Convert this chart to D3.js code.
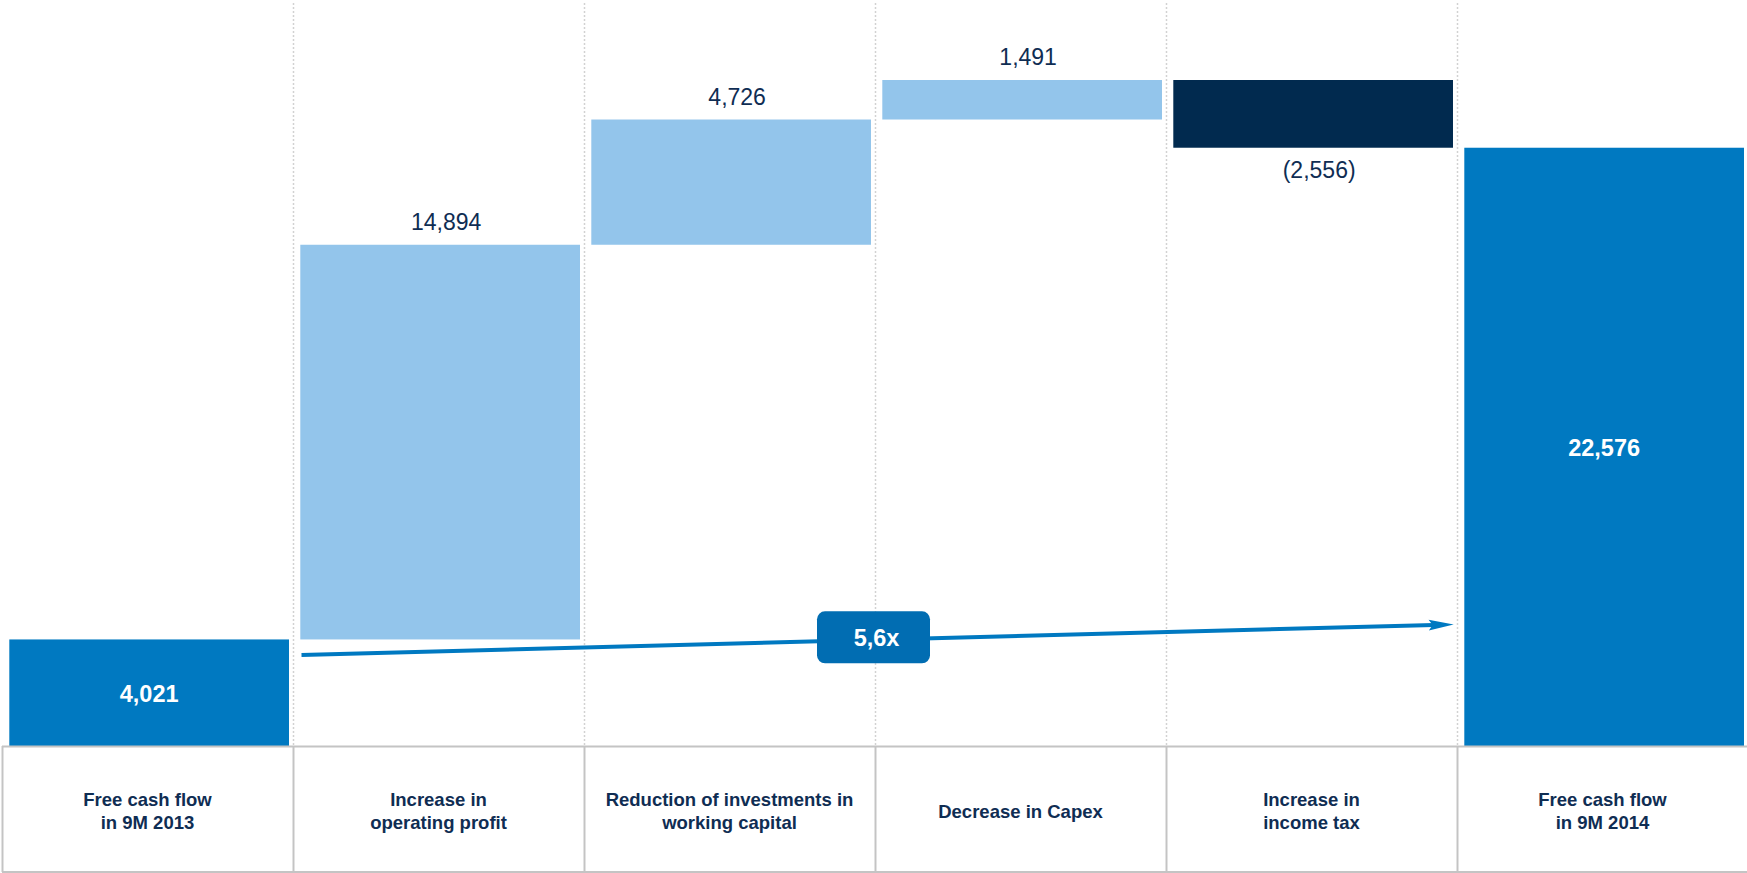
<!DOCTYPE html>
<html>
<head>
<meta charset="utf-8">
<script src="https://cdn.jsdelivr.net/npm/d3@7"></script>
<style>
  html, body { margin: 0; padding: 0; background: #ffffff; }
  svg { display: block; }
  text { font-family: "Liberation Sans", Arial, sans-serif; }
</style>
</head>
<body>
<svg id="chart" width="1747" height="873"></svg>
<script>
// Free cash flow bridge, 9M 2013 -> 9M 2014
const categories = [
  "Free cash flow\nin 9M 2013",
  "Increase in\noperating profit",
  "Reduction of investments in\nworking capital",
  "Decrease in Capex",
  "Increase in\nincome tax",
  "Free cash flow\nin 9M 2014"
];
const values = [4021, 14894, 4726, 1491, -2556, 22576];
const kinds = ["total", "increase", "increase", "increase", "decrease", "total"];
const valueLabels = ["4,021", "14,894", "4,726", "1,491", "(2,556)", "22,576"];

const W = 1747, H = 873;
const baseY = 746, tableBottom = 872, topY = 80;

const colors = {
  total: "#0079c1",
  increase: "#93c5eb",
  decrease: "#012a4f",
  badge: "#016db2",
  text: "#0f2d53",
  grid: "#d2d2d2",
  table: "#c4c4c4"
};

// running totals for the waterfall
let running = 0;
const bars = values.map((v, i) => {
  let y0, y1;
  if (kinds[i] === "total") { y0 = 0; y1 = v; running = v; }
  else { y0 = running; y1 = running + v; running = y1; }
  return { cat: categories[i], value: v, kind: kinds[i], label: valueLabels[i],
           lo: Math.min(y0, y1), hi: Math.max(y0, y1) };
});

const svg = d3.select("#chart");

const col = d3.scaleBand().domain(categories).range([2, 1748]).padding(0);
const y = d3.scaleLinear().domain([0, d3.max(bars, d => d.hi)]).range([baseY, topY]);

const barInsetL = 7.3, barInsetR = 4;
const barX = c => col(c) + barInsetL;
const barW = col.bandwidth() - barInsetL - barInsetR;

// dotted column separators in the plot area
svg.append("g").selectAll("line")
  .data(categories.slice(1))
  .join("line")
  .attr("x1", d => col(d) + 0.5).attr("x2", d => col(d) + 0.5)
  .attr("y1", 3).attr("y2", baseY)
  .attr("stroke", colors.grid)
  .attr("stroke-width", 1.5)
  .attr("stroke-dasharray", "2,2");

// bars
svg.append("g").selectAll("rect")
  .data(bars)
  .join("rect")
  .attr("x", d => barX(d.cat))
  .attr("width", barW)
  .attr("y", d => y(d.hi))
  .attr("height", d => y(d.lo) - y(d.hi))
  .attr("fill", d => colors[d.kind]);

// value labels
const labels = svg.append("g");
bars.forEach(d => {
  const cx = barX(d.cat) + barW / 2;
  if (d.kind === "total") {
    labels.append("text")
      .attr("x", cx)
      .attr("y", (y(d.lo) + y(d.hi)) / 2 + 9)
      .attr("text-anchor", "middle")
      .attr("font-size", 23.5)
      .attr("font-weight", "bold")
      .attr("fill", "#ffffff")
      .text(d.label);
  } else if (d.kind === "increase") {
    labels.append("text")
      .attr("x", cx + 6)
      .attr("y", y(d.hi) - 15)
      .attr("text-anchor", "middle")
      .attr("font-size", 23)
      .attr("fill", colors.text)
      .text(d.label);
  } else {
    labels.append("text")
      .attr("x", cx + 6)
      .attr("y", y(d.lo) + 30)
      .attr("text-anchor", "middle")
      .attr("font-size", 23)
      .attr("fill", colors.text)
      .text(d.label);
  }
});

// growth arrow from the first total to the last
const first = bars[0], last = bars[bars.length - 1];
const ax0 = barX(first.cat) + barW + 12.5;
const ax1 = col(last.cat) - 3.3;
const ay0 = y(first.hi) + 15.5;
const ay1 = y(first.hi) - 15;
const headLen = 25, headHalf = 5.3, notch = 4;
const ang = Math.atan2(ay1 - ay0, ax1 - ax0);
const ux = Math.cos(ang), uy = Math.sin(ang);
const lineEnd = [ax1 - ux * (headLen - notch - 1), ay1 - uy * (headLen - notch - 1)];

svg.append("line")
  .attr("x1", ax0).attr("y1", ay0)
  .attr("x2", lineEnd[0]).attr("y2", lineEnd[1])
  .attr("stroke", colors.total)
  .attr("stroke-width", 4);

const headPts = [[0, 0], [-headLen, -headHalf], [-headLen + notch, 0], [-headLen, headHalf]]
  .map(([px, py]) => [ax1 + px * ux - py * uy, ay1 + px * uy + py * ux]);
svg.append("path")
  .attr("d", d3.line()(headPts) + "Z")
  .attr("fill", colors.total);

// growth multiple badge
const ratio = last.value / first.value;
const ratioText = ratio.toFixed(1).replace(".", ",") + "x";
const bx = col(categories[3]) - 1.5;
const by = ay0 + (ay1 - ay0) * (bx - ax0) / (ax1 - ax0) - 2.5;
const bw = 113, bh = 52;
svg.append("rect")
  .attr("x", bx - bw / 2).attr("y", by - bh / 2)
  .attr("width", bw).attr("height", bh)
  .attr("rx", 8).attr("ry", 8)
  .attr("fill", colors.badge);
svg.append("text")
  .attr("x", bx + 3).attr("y", by + 8.5)
  .attr("text-anchor", "middle")
  .attr("font-size", 23.5)
  .attr("font-weight", "bold")
  .attr("fill", "#ffffff")
  .text(ratioText);

// category table below the bars
const table = svg.append("g");
table.append("line")
  .attr("x1", 2).attr("x2", W).attr("y1", baseY + 0.5).attr("y2", baseY + 0.5)
  .attr("stroke", colors.table).attr("stroke-width", 2);
table.append("line")
  .attr("x1", 2).attr("x2", W).attr("y1", tableBottom).attr("y2", tableBottom)
  .attr("stroke", colors.table).attr("stroke-width", 2);
table.selectAll("line.sep")
  .data(categories)
  .join("line")
  .attr("class", "sep")
  .attr("x1", d => col(d) + 0.5).attr("x2", d => col(d) + 0.5)
  .attr("y1", baseY).attr("y2", tableBottom)
  .attr("stroke", colors.table).attr("stroke-width", 2);

const lineH = 22.6;
const midY = (baseY + tableBottom) / 2 + 8.5;
categories.forEach(c => {
  const lines = c.split("\n");
  const t = table.append("text")
    .attr("text-anchor", "middle")
    .attr("font-size", 18.5)
    .attr("font-weight", "bold")
    .attr("fill", colors.text);
  lines.forEach((ln, i) => {
    t.append("tspan")
      .attr("x", col(c) + col.bandwidth() / 2)
      .attr("y", midY + (i - (lines.length - 1) / 2) * lineH)
      .text(ln);
  });
});
</script>
</body>
</html>
